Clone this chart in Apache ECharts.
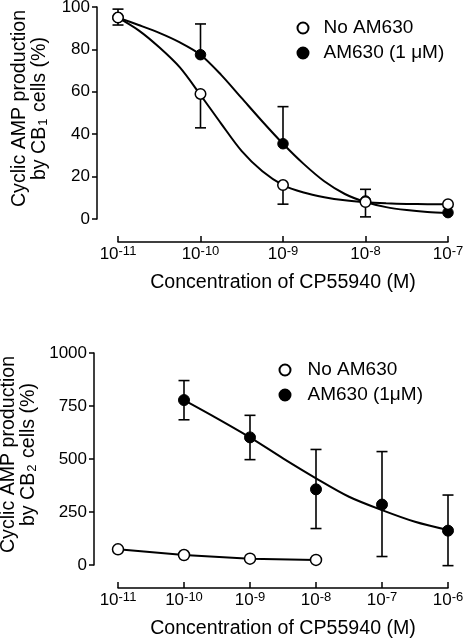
<!DOCTYPE html>
<html>
<head>
<meta charset="utf-8">
<script src="https://cdn.jsdelivr.net/npm/echarts@6/dist/echarts.min.js"></script>
<style>html,body{margin:0;padding:0;background:#fff}#c{width:465px;height:640px}</style>
</head>
<body>
<div id="c"></div>
<script>
// ---------- data: top panel (CB1 cells) ----------
// x values are log10 of CP55940 concentration (M)
const topExp = [-11, -10, -9, -8, -7];
const topNoAM = [95, 59, 16, 8, 7];
const topNoAMHigh = [99, null, null, 14, null];
const topNoAMLow = [91.5, 43, 7, 1, null];
const topAM = [95, 77.5, 35.5, 8.5, 3];
const topAMHigh = [null, 92, 53, null, null];
const topAMLow = [null, null, null, null, null];
// fitted curves at quarter-decade steps
const topFitExp = [-11, -10.75, -10.5, -10.25, -10, -9.75, -9.5, -9.25, -9, -8.75, -8.5, -8.25, -8, -7.75, -7.5, -7.25, -7];
const topFitNoAM = [95, 89, 81, 71.5, 58.5, 45, 32, 22.5, 16, 12.5, 10.3, 8.8, 7.9, 7.4, 7.1, 7, 7];
const topFitAM = [95, 91.5, 87.8, 83.3, 77.5, 68, 57, 46, 35.5, 26, 17.8, 11.8, 8, 5.6, 4.2, 3.3, 2.8];
const topYTicks = [0, 20, 40, 60, 80, 100];

// ---------- data: bottom panel (CB2 cells) ----------
const botExpNoAM = [-11, -10, -9, -8];
const botNoAM = [74, 47, 30, 24];
const botExpAM = [-10, -9, -8, -7, -6];
const botAM = [778, 602, 357, 285, 162];
const botAMHigh = [870, 706, 545, 535, 330];
const botAMLow = [685, 497, 172, 40, -3];
const botFitExp = [-10, -9.5, -9, -8.5, -8, -7.5, -7, -6.5, -6];
const botFitAM = [778, 692, 602, 503, 409, 322, 259, 204, 165];
const botYTicks = [0, 250, 500, 750, 1000];

const legendTop = ['No AM630', 'AM630 (1 μM)'];
const legendBot = ['No AM630', 'AM630 (1μM)'];

const FONT = '"Liberation Sans", Arial, Helvetica, sans-serif';

function pairs(xs, ys) { return xs.map((x, i) => [x, ys[i]]); }
function errSegs(xs, ys, ends) {
  const out = [];
  xs.forEach((x, i) => { if (ends[i] !== null && ends[i] !== undefined) out.push([x, ys[i], ends[i]]); });
  return out;
}
function errRender(params, api) {
  const x = api.value(0), y = api.value(1), e = api.value(2);
  const p0 = api.coord([x, y]);
  const p1 = api.coord([x, e]);
  const hw = 5.5;
  return {
    type: 'group',
    children: [
      { type: 'line', shape: { x1: p0[0], y1: p0[1], x2: p1[0], y2: p1[1] }, style: { stroke: '#000', lineWidth: 1.6 } },
      { type: 'line', shape: { x1: p1[0] - hw, y1: p1[1], x2: p1[0] + hw, y2: p1[1] }, style: { stroke: '#000', lineWidth: 1.6 } }
    ]
  };
}

function xAxisDef(grid, min, max) {
  return {
    gridIndex: grid, type: 'value', min: min, max: max, interval: 1, offset: 23,
    axisLine: { show: true, onZero: false, lineStyle: { color: '#000', width: 1.5 } },
    axisTick: { show: true, inside: true, length: 6, lineStyle: { color: '#000', width: 1.5 } },
    splitLine: { show: false },
    axisLabel: {
      margin: 2, color: '#000', fontFamily: FONT,
      formatter: v => '{b|10}{s|' + v + '}',
      rich: {
        b: { fontSize: 17, fontFamily: FONT, color: '#000', lineHeight: 20 },
        s: { fontSize: 13, fontFamily: FONT, color: '#000', lineHeight: 12, padding: [0, 0, 6, 0] }
      }
    },
    name: 'Concentration of CP55940 (M)', nameLocation: 'middle', nameGap: 31, nameMoveOverlap: false,
    nameTextStyle: { fontSize: 19.6, fontFamily: FONT, color: '#000' }
  };
}
function yAxisDef(grid, ticks, offset, sub, gap) {
  return {
    gridIndex: grid, type: 'value', min: ticks[0], max: ticks[ticks.length - 1],
    interval: ticks[1] - ticks[0], offset: offset,
    axisLine: { show: true, lineStyle: { color: '#000', width: 1.5 } },
    axisTick: { show: true, inside: false, length: 5, lineStyle: { color: '#000', width: 1.5 } },
    splitLine: { show: false },
    axisLabel: { margin: 7, fontSize: 17, fontFamily: FONT, color: '#000', formatter: v => String(v) },
    name: 'Cyclic AMP production\nby CB{sub|' + sub + '} cells (%)',
    nameLocation: 'middle', nameRotate: 90, nameGap: gap, nameMoveOverlap: false,
    nameTextStyle: {
      fontSize: 19.6, fontFamily: FONT, color: '#000', lineHeight: 20, padding: [0, 0, 0, 9],
      rich: { sub: { fontSize: 13, fontFamily: FONT, color: '#000', lineHeight: 12, padding: [7, 1, 0, 1] } }
    }
  };
}

const openStyle = { color: '#fff', borderColor: '#000', borderWidth: 1.5, opacity: 1 };
const fillStyle = { color: '#000', borderColor: '#000', borderWidth: 1, opacity: 1 };
const lineStyle = { color: '#000', width: 2 };

const option = {
  animation: false,
  backgroundColor: '#fff',
  textStyle: { fontFamily: FONT },
  grid: [
    { left: 118, right: 17, top: 7, height: 212, containLabel: false, outerBoundsMode: 'none' },
    { left: 118, right: 17, top: 353, height: 212, containLabel: false, outerBoundsMode: 'none' }
  ],
  xAxis: [xAxisDef(0, -11, -7), xAxisDef(1, -11, -6)],
  yAxis: [yAxisDef(0, topYTicks, 21, '1', 47), yAxisDef(1, botYTicks, 24, '2', 55)],
  legend: [
    {
      orient: 'vertical', left: 296.5, top: 18, padding: 0, itemGap: 5,
      itemWidth: 11, itemHeight: 11, data: legendTop,
      textStyle: { fontSize: 19, fontFamily: FONT, color: '#000', lineHeight: 20, padding: [0, 0, 0, 10] }
    },
    {
      orient: 'vertical', left: 278.5, top: 360, padding: 0, itemGap: 5,
      itemWidth: 11, itemHeight: 11, data: legendBot,
      textStyle: { fontSize: 19, fontFamily: FONT, color: '#000', lineHeight: 20, padding: [0, 0, 0, 12] }
    }
  ],
  series: [
    // top panel
    { type: 'line', name: 'fitNoTop', xAxisIndex: 0, yAxisIndex: 0, data: pairs(topFitExp, topFitNoAM), smooth: 0.3, showSymbol: false, lineStyle: lineStyle, z: 2 },
    { type: 'line', name: 'fitAMTop', xAxisIndex: 0, yAxisIndex: 0, data: pairs(topFitExp, topFitAM), smooth: 0.3, showSymbol: false, lineStyle: lineStyle, z: 2 },
    { type: 'custom', xAxisIndex: 0, yAxisIndex: 0, renderItem: errRender, encode: { x: 0, y: [1, 2] }, clip: false, z: 3,
      data: errSegs(topExp, topNoAM, topNoAMHigh).concat(errSegs(topExp, topNoAM, topNoAMLow), errSegs(topExp, topAM, topAMHigh), errSegs(topExp, topAM, topAMLow)) },
    { type: 'scatter', name: legendTop[1], xAxisIndex: 0, yAxisIndex: 0, data: pairs(topExp, topAM), symbol: 'circle', symbolSize: 10.5, itemStyle: fillStyle, z: 4 },
    { type: 'scatter', name: legendTop[0], xAxisIndex: 0, yAxisIndex: 0, data: pairs(topExp, topNoAM), symbol: 'circle', symbolSize: 10.5, itemStyle: openStyle, z: 5 },
    // bottom panel
    { type: 'line', name: 'fitAMBot', xAxisIndex: 1, yAxisIndex: 1, data: pairs(botFitExp, botFitAM), smooth: 0.3, showSymbol: false, lineStyle: lineStyle, z: 2 },
    { type: 'line', name: 'lineNoBot', xAxisIndex: 1, yAxisIndex: 1, data: pairs(botExpNoAM, botNoAM), showSymbol: false, lineStyle: lineStyle, z: 2 },
    { type: 'custom', xAxisIndex: 1, yAxisIndex: 1, renderItem: errRender, encode: { x: 0, y: [1, 2] }, clip: false, z: 3,
      data: errSegs(botExpAM, botAM, botAMHigh).concat(errSegs(botExpAM, botAM, botAMLow)) },
    { type: 'scatter', name: legendBot[1], xAxisIndex: 1, yAxisIndex: 1, data: pairs(botExpAM, botAM), symbol: 'circle', symbolSize: 11, itemStyle: fillStyle, z: 4 },
    { type: 'scatter', name: 'No AM630', xAxisIndex: 1, yAxisIndex: 1, data: pairs(botExpNoAM, botNoAM), symbol: 'circle', symbolSize: 11, itemStyle: openStyle, z: 5 }
  ]
};
const chart = echarts.init(document.getElementById('c'), null, { renderer: 'canvas' });
chart.setOption(option);
</script>
</body>
</html>
